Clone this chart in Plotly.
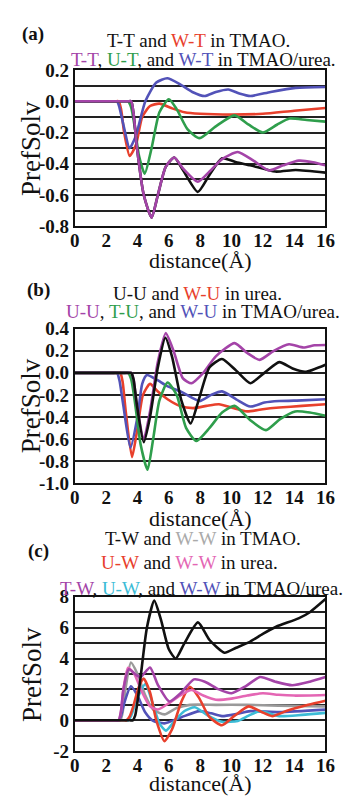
import plotly.graph_objects as go

W, H = 346, 805
FONT = "Liberation Serif"

# ---------------- data: panel (a) ----------------
a_TT_TMAO_x = [0, 2, 3.4, 3.6, 3.75, 3.97, 4.4, 4.9, 5.3, 5.8, 6.35, 6.9, 7.85, 8.6, 9.4, 10.3, 11.2, 12.8, 14.1, 16]
a_TT_TMAO_y = [0, 0, 0, 0, -0.08, -0.30, -0.60, -0.745, -0.60, -0.42, -0.36, -0.44, -0.58, -0.47, -0.365, -0.39, -0.41, -0.45, -0.44, -0.457]
a_WT_TMAO_x = [0, 2, 2.6, 2.8, 2.95, 3.15, 3.5, 3.9, 4.3, 4.8, 5.4, 6.2, 7.0, 8.0, 10, 12, 14, 16]
a_WT_TMAO_y = [0, 0, 0, 0, -0.05, -0.20, -0.35, -0.28, -0.10, -0.03, -0.015, -0.045, -0.07, -0.08, -0.085, -0.08, -0.06, -0.043]
a_TT_mix_x = [0, 2, 3.4, 3.6, 3.75, 3.97, 4.4, 4.9, 5.3, 5.8, 6.35, 6.9, 7.85, 8.6, 9.4, 10.4, 11.4, 12.4, 13.3, 14.3, 15.2, 16]
a_TT_mix_y = [0, 0, 0, 0, -0.08, -0.30, -0.60, -0.745, -0.60, -0.42, -0.36, -0.43, -0.515, -0.45, -0.37, -0.325, -0.38, -0.443, -0.41, -0.38, -0.39, -0.41]
a_UT_mix_x = [0, 2, 3.2, 3.4, 3.6, 3.8, 4.1, 4.46, 4.9, 5.4, 6.0, 6.5, 7.2, 7.96, 9.0, 10.2, 11.1, 12.0, 12.9, 13.7, 14.8, 16]
a_UT_mix_y = [0, 0, 0, 0, -0.04, -0.15, -0.35, -0.464, -0.30, -0.07, 0.013, -0.05, -0.18, -0.236, -0.16, -0.09, -0.15, -0.20, -0.15, -0.11, -0.12, -0.13]
a_WT_mix_x = [0, 2, 2.5, 2.7, 2.85, 3.1, 3.5, 3.9, 4.5, 5.2, 5.9, 6.7, 7.5, 8.3, 9.0, 9.8, 10.5, 11.2, 12.5, 14.1, 16]
a_WT_mix_y = [0, 0, 0, 0, -0.04, -0.15, -0.30, -0.22, 0.0, 0.12, 0.148, 0.11, 0.06, 0.034, 0.06, 0.076, 0.05, 0.034, 0.06, 0.086, 0.092]

# ---------------- data: panel (b) ----------------
b_UU_urea_x = [0, 2, 3.4, 3.6, 3.75, 3.95, 4.4, 4.8, 5.3, 5.78, 6.2, 6.8, 7.39, 7.9, 8.6, 9.39, 10.3, 11.2, 12.1, 13.05, 13.9, 14.7, 16]
b_UU_urea_y = [0, 0, 0, 0, -0.06, -0.28, -0.63, -0.40, 0.05, 0.318, 0.15, -0.25, -0.46, -0.25, 0.05, 0.126, 0.02, -0.094, 0.0, 0.097, 0.04, 0.009, 0.074]
b_WU_urea_x = [0, 2, 2.7, 2.9, 3.05, 3.25, 3.65, 4.0, 4.35, 4.8, 5.3, 5.92, 6.7, 7.55, 8.4, 9.2, 10.1, 11.0, 12.0, 13.05, 14.5, 16]
b_WU_urea_y = [0, 0, 0, 0, -0.08, -0.35, -0.765, -0.50, -0.20, -0.10, -0.17, -0.24, -0.30, -0.32, -0.30, -0.285, -0.32, -0.35, -0.33, -0.315, -0.30, -0.285]
b_UU_mix_x = [0, 2, 3.4, 3.6, 3.75, 3.95, 4.4, 4.8, 5.3, 5.8, 6.3, 6.9, 7.45, 8.2, 9.0, 10.2, 11.0, 11.8, 12.7, 13.67, 14.6, 15.3, 16]
b_UU_mix_y = [0, 0, 0, 0, -0.06, -0.28, -0.60, -0.35, 0.10, 0.36, 0.20, -0.05, -0.094, 0.0, 0.15, 0.27, 0.18, 0.118, 0.20, 0.26, 0.23, 0.25, 0.253]
b_TU_mix_x = [0, 2, 3.2, 3.4, 3.6, 3.85, 4.2, 4.64, 5.0, 5.4, 5.92, 6.5, 7.1, 7.76, 8.6, 9.4, 10.2, 11.2, 12.2, 13.1, 14.07, 15, 16]
b_TU_mix_y = [0, 0, 0, 0, -0.06, -0.28, -0.65, -0.88, -0.60, -0.25, -0.088, -0.20, -0.50, -0.618, -0.50, -0.36, -0.30, -0.43, -0.52, -0.42, -0.35, -0.36, -0.39]
b_WU_mix_x = [0, 2, 2.5, 2.7, 2.85, 3.1, 3.55, 4.0, 4.3, 4.6, 5.2, 5.9, 6.9, 7.96, 8.7, 9.4, 10.3, 11.2, 12.1, 13.05, 14.5, 16]
b_WU_mix_y = [0, 0, 0, 0, -0.07, -0.30, -0.68, -0.40, -0.10, -0.02, -0.06, -0.12, -0.18, -0.256, -0.20, -0.168, -0.24, -0.306, -0.27, -0.256, -0.25, -0.24]

# ---------------- data: panel (c) ----------------
c_TW_TMAO_x = [0, 2, 3.5, 3.7, 3.85, 4.0, 4.2, 4.6, 5.07, 5.5, 6.0, 6.44, 7.0, 7.86, 8.6, 9.55, 10.3, 11.2, 12.0, 12.85, 14.28, 15.0, 16]
c_TW_TMAO_y = [0, 0, 0, 0, 0.3, 1.2, 2.8, 6.0, 7.75, 6.5, 4.6, 4.0, 5.0, 6.34, 5.2, 4.38, 4.7, 5.1, 5.6, 6.06, 6.6, 7.0, 7.85]
c_WW_TMAO_x = [0, 2, 2.7, 2.9, 3.05, 3.2, 3.58, 4.0, 4.5, 5.0, 5.72, 6.5, 7.35, 9, 11, 13, 16]
c_WW_TMAO_y = [0, 0, 0, 0, 0.5, 1.8, 3.74, 3.0, 1.6, 0.7, 0.38, 0.8, 1.0, 1.0, 1.0, 0.95, 0.9]
c_UW_urea_x = [0, 2, 3.1, 3.3, 3.5, 3.7, 4.1, 4.4, 4.8, 5.2, 5.72, 6.2, 6.8, 7.35, 7.9, 8.6, 9.39, 10.2, 11.1, 11.9, 12.6, 13.5, 14.9, 16]
c_UW_urea_y = [0, 0, 0, 0, 0.25, 0.8, 2.2, 2.7, 1.8, 0.0, -1.35, -0.6, 1.2, 2.17, 1.5, 0.2, -0.32, 0.3, 0.9, 0.55, 0.27, 0.6, 1.0, 1.26]
c_WW_urea_x = [0, 2, 2.6, 2.8, 2.95, 3.1, 3.4, 3.8, 4.3, 4.8, 5.3, 6.0, 6.7, 7.45, 8.2, 9.0, 10, 11, 12, 13, 14, 16]
c_WW_urea_y = [0, 0, 0, 0, 0.6, 2.0, 3.4, 3.0, 1.8, 0.9, 0.7, 1.1, 1.6, 1.96, 1.6, 1.33, 1.4, 1.6, 1.75, 1.65, 1.6, 1.64]
c_TW_mix_x = [0, 2, 2.6, 2.8, 2.95, 3.1, 3.45, 3.9, 4.2, 4.8, 5.3, 6.03, 6.8, 7.6, 8.3, 9.2, 10.0, 10.9, 11.83, 12.8, 13.87, 15, 16]
c_TW_mix_y = [0, 0, 0, 0, 0.6, 2.0, 3.3, 2.95, 2.8, 3.42, 2.3, 1.22, 1.8, 2.65, 2.5, 2.0, 1.75, 2.2, 2.8, 2.5, 2.27, 2.5, 2.8]
c_UW_mix_x = [0, 2, 3.2, 3.4, 3.6, 3.9, 4.5, 5.0, 5.4, 5.82, 6.4, 7.0, 7.66, 8.5, 9.4, 10.4, 11.1, 11.8, 13.05, 14.5, 16]
c_UW_mix_y = [0, 0, 0, 0, 0.3, 1.2, 2.34, 1.0, -0.2, -0.67, 0.0, 0.6, 0.84, 0.3, -0.1, -0.04, 0.3, 0.59, 0.27, 0.35, 0.48]
c_WW_mix_x = [0, 2, 2.6, 2.8, 2.95, 3.15, 3.58, 4.0, 4.5, 5.0, 5.72, 6.8, 7.96, 8.7, 9.39, 10.3, 11.2, 13.05, 16]
c_WW_mix_y = [0, 0, 0, 0, 0.3, 1.1, 2.2, 1.6, 0.5, -0.04, -0.2, 0.2, 0.59, 0.45, 0.27, 0.4, 0.59, 0.53, 0.69]

# ---------------- ticks ----------------
x_ticks = [0, 2, 4, 6, 8, 10, 12, 14, 16]
x_ticktext = ["0", "2", "4", "6", "8", "10", "12", "14", "16"]
a_ticks = [0.2, 0.0, -0.2, -0.4, -0.6, -0.8]
a_ticktext = ["0.2", "0.0", "-0.2", "-0.4", "-0.6", "-0.8"]
b_ticks = [0.4, 0.2, 0.0, -0.2, -0.4, -0.6, -0.8, -1.0]
b_ticktext = ["0.4", "0.2", "0.0", "-0.2", "-0.4", "-0.6", "-0.8", "-1.0"]
c_ticks = [8, 6, 4, 2, 0, -2]
c_ticktext = ["8", "6", "4", "2", "0", "-2"]

# ---------------- colours ----------------
BLACK = "#111111"
RED = "#e8402c"
GREEN = "#2f9e4c"
BLUE = "#5252b8"
PURPLE = "#a444a8"
GRAY = "#9a9a9a"
PINK = "#e466b4"
CYAN = "#3cbcd6"

fig = go.Figure()

def add(x, y, color, ax):
    fig.add_trace(go.Scatter(x=x, y=y, mode="lines", xaxis="x" + ax, yaxis="y" + ax,
                             line=dict(color=color, width=2.6, shape="spline", smoothing=0.6),
                             showlegend=False, hoverinfo="skip"))

# panel a
add(a_WT_TMAO_x, a_WT_TMAO_y, RED, "")
add(a_WT_mix_x, a_WT_mix_y, BLUE, "")
add(a_UT_mix_x, a_UT_mix_y, GREEN, "")
add(a_TT_TMAO_x, a_TT_TMAO_y, BLACK, "")
add(a_TT_mix_x, a_TT_mix_y, PURPLE, "")
# panel b
add(b_WU_urea_x, b_WU_urea_y, RED, "2")
add(b_WU_mix_x, b_WU_mix_y, BLUE, "2")
add(b_TU_mix_x, b_TU_mix_y, GREEN, "2")
add(b_UU_mix_x, b_UU_mix_y, PURPLE, "2")
add(b_UU_urea_x, b_UU_urea_y, BLACK, "2")
# panel c
add(c_WW_TMAO_x, c_WW_TMAO_y, GRAY, "3")
add(c_WW_mix_x, c_WW_mix_y, BLUE, "3")
add(c_UW_mix_x, c_UW_mix_y, CYAN, "3")
add(c_UW_urea_x, c_UW_urea_y, RED, "3")
add(c_WW_urea_x, c_WW_urea_y, PINK, "3")
add(c_TW_mix_x, c_TW_mix_y, PURPLE, "3")
add(c_TW_TMAO_x, c_TW_TMAO_y, BLACK, "3")

XD = [73 / W, 335 / W]

def ydom(top, bottom):
    return [1 - bottom / H, 1 - top / H]

tickfont = dict(family=FONT, size=19, color="#111", weight="bold")

def xaxis(anchor):
    return dict(domain=XD, anchor=anchor, range=[0, 16], tickvals=x_ticks, ticktext=x_ticktext,
                showgrid=False, zeroline=False, showline=True, mirror=True, linecolor="#111",
                linewidth=2, ticks="", ticklen=0, ticklabelstandoff=-4, tickfont=tickfont)

def yaxis(anchor, dom, rng, tv, tt, minor):
    d = dict(domain=dom, anchor=anchor, range=rng, tickvals=tv, ticktext=tt,
             showgrid=True, gridcolor="#222", gridwidth=1.6, zeroline=False,
             showline=True, mirror=True, linecolor="#111", linewidth=2, ticks="", ticklen=0,
             tickfont=tickfont)
    if minor is not None:
        d["minor"] = dict(dtick=minor, tick0=0, showgrid=True, gridcolor="#222", gridwidth=1.6, ticks="")
    return d

fig.update_layout(
    width=W, height=H, margin=dict(l=0, r=0, t=0, b=0),
    paper_bgcolor="white", plot_bgcolor="white",
    xaxis=xaxis("y"),
    yaxis=yaxis("x", ydom(61.7, 222), [-0.8, 0.2], a_ticks, a_ticktext, 0.1),
    xaxis2=xaxis("y2"),
    yaxis2=yaxis("x2", ydom(327.3, 485.7), [-1.0, 0.4], b_ticks, b_ticktext, None),
    xaxis3=xaxis("y3"),
    yaxis3=yaxis("x3", ydom(602.5, 761), [-2, 8], c_ticks, c_ticktext, 1),
)

def c(col, txt):
    return f"<span style='color:{col}'>{txt}</span>"

def ann(text, px, py, size=19, angle=0, weight="normal"):
    fig.add_annotation(text=text, x=px / W, y=1 - py / H, xref="paper", yref="paper",
                       xanchor="center", yanchor="middle", showarrow=False, textangle=angle,
                       font=dict(family=FONT, size=size, color="#111", weight=weight))

# panel labels
ann("(a)", 29, 25, weight="bold")
ann("(b)", 35, 288, weight="bold")
ann("(c)", 35, 555, weight="bold")

# titles
ann("T-T and " + c(RED, "W-T") + " in TMAO.", 202, 31)
ann(c(PURPLE, "T-T") + ", " + c(GREEN, "U-T") + ", and " + c(BLUE, "W-T") + " in TMAO/urea.", 208, 51)
ann("U-U and " + c(RED, "W-U") + " in urea.", 201, 291)
ann(c(PURPLE, "U-U") + ", " + c(GREEN, "T-U") + ", and " + c(BLUE, "W-U") + " in TMAO/urea.", 207, 310)
ann("T-W and " + c("#aaaaaa", "W-W") + " in TMAO.", 207, 543)
ann(c(RED, "U-W") + " and " + c(PINK, "W-W") + " in urea.", 193, 567)
ann(c(PURPLE, "T-W") + ", " + c(CYAN, "U-W") + ", and " + c(BLUE, "W-W") + " in TMAO/urea.", 205, 594)

# axis titles
for cy in [142, 406, 682]:
    ann("PrefSolv", 28, cy, size=27, angle=-90)
for cy in [257, 522, 794]:
    ann("distance(Å)", 204, cy, size=22)

fig.write_html("out.html")
